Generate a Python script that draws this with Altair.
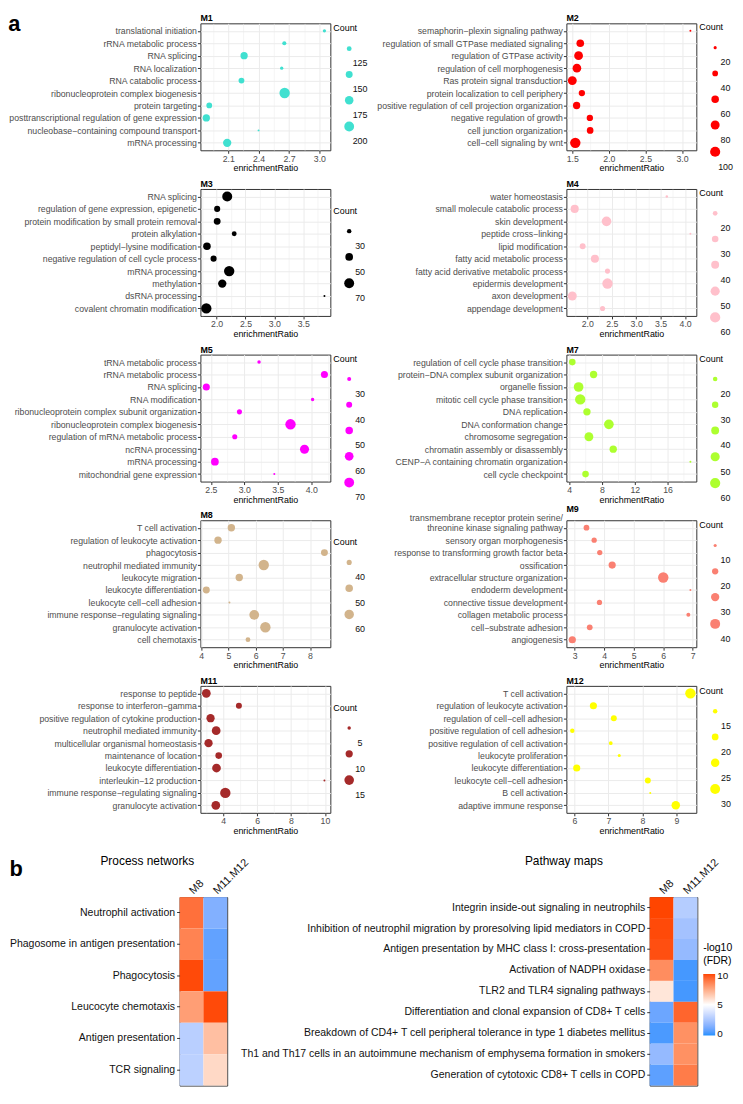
import json
import math
import altair as alt
import pandas as pd

FONT = "Liberation Sans"
INK = "#333333"
TICK_TEXT = "#4D4D4D"
GRID = "#EBEBEB"
BLACK = "#111111"

# ---------------- a: enrichment dot plots ----------------
m1_terms = ["translational initiation", "rRNA metabolic process", "RNA splicing", "RNA localization",
            "RNA catabolic process", "ribonucleoprotein complex biogenesis", "protein targeting",
            "posttranscriptional regulation of gene expression", "nucleobase\u2212containing compound transport",
            "mRNA processing"]
m1_ratio = [3.05, 2.654, 2.257, 2.628, 2.231, 2.657, 1.913, 1.884, 2.40, 2.09]
m1_count = [112, 118, 155, 112, 135, 212, 135, 155, 105, 172]
m1_xticks = [2.1, 2.4, 2.7, 3.0]
m1_breaks = [125, 150, 175, 200]

m2_terms = ["semaphorin\u2212plexin signaling pathway", "regulation of small GTPase mediated signaling",
            "regulation of GTPase activity", "regulation of cell morphogenesis", "Ras protein signal transduction",
            "protein localization to cell periphery", "positive regulation of cell projection organization",
            "negative regulation of growth", "cell junction organization", "cell\u2212cell signaling by wnt"]
m2_ratio = [3.115, 1.609, 1.586, 1.563, 1.50, 1.631, 1.559, 1.74, 1.744, 1.541]
m2_count = [15, 62, 78, 76, 80, 46, 58, 46, 50, 105]
m2_xticks = [1.5, 2.0, 2.5, 3.0]
m2_breaks = [20, 40, 60, 80, 100]

m3_terms = ["RNA splicing", "regulation of gene expression, epigenetic",
            "protein modification by small protein removal", "protein alkylation",
            "peptidyl\u2212lysine modification", "negative regulation of cell cycle process", "mRNA processing",
            "methylation", "dsRNA processing", "covalent chromatin modification"]
m3_ratio = [2.184, 2.01, 2.01, 2.305, 1.833, 1.948, 2.218, 2.098, 3.867, 1.822]
m3_count = [71, 39, 44, 32, 49, 39, 75, 55, 22, 74]
m3_xticks = [2.0, 2.5, 3.0, 3.5]
m3_breaks = [30, 50, 70]

m4_terms = ["water homeostasis", "small molecule catabolic process", "skin development",
            "peptide cross\u2212linking", "lipid modification", "fatty acid metabolic process",
            "fatty acid derivative metabolic process", "epidermis development", "axon development",
            "appendage development"]
m4_ratio = [3.626, 1.744, 2.394, 4.108, 1.907, 2.157, 2.414, 2.414, 1.695, 2.313]
m4_count = [12, 41, 54, 11, 26, 41, 22, 62, 48, 22]
m4_xticks = [2.0, 2.5, 3.0, 3.5, 4.0]
m4_breaks = [20, 30, 40, 50, 60]

m5_terms = ["tRNA metabolic process", "rRNA metabolic process", "RNA splicing", "RNA modification",
            "ribonucleoprotein complex subunit organization", "ribonucleoprotein complex biogenesis",
            "regulation of mRNA metabolic process", "ncRNA processing", "mRNA processing",
            "mitochondrial gene expression"]
m5_ratio = [3.22, 4.197, 2.432, 4.02, 2.927, 3.69, 2.857, 3.899, 2.56, 3.448]
m5_count = [28, 47, 47, 28, 35, 76, 35, 63, 52, 24]
m5_xticks = [2.5, 3.0, 3.5, 4.0]
m5_breaks = [30, 40, 50, 60, 70]

m7_terms = ["regulation of cell cycle phase transition", "protein\u2212DNA complex subunit organization",
            "organelle fission", "mitotic cell cycle phase transition", "DNA replication",
            "DNA conformation change", "chromosome segregation", "chromatin assembly or disassembly",
            "CENP\u2212A containing chromatin organization", "cell cycle checkpoint"]
m7_ratio = [4.37, 6.97, 5.14, 5.34, 6.16, 8.84, 6.40, 9.37, 18.8, 5.99]
m7_count = [31, 36, 55, 62, 36, 55, 48, 36, 12, 31]
m7_xticks = [4, 8, 12, 16]
m7_breaks = [20, 30, 40, 50, 60]

m8_terms = ["T cell activation", "regulation of leukocyte activation", "phagocytosis",
            "neutrophil mediated immunity", "leukocyte migration", "leukocyte differentiation",
            "leukocyte cell\u2212cell adhesion", "immune response\u2212regulating signaling",
            "granulocyte activation", "cell chemotaxis"]
m8_ratio = [5.11, 4.62, 8.53, 6.30, 5.40, 4.19, 5.04, 5.95, 6.36, 5.72]
m8_count = [49, 49, 47, 66, 49, 47, 33, 62, 66, 39]
m8_xticks = [4, 5, 6, 7, 8]
m8_breaks = [40, 50, 60]

m9_terms = ["transmembrane receptor protein serine/\nthreonine kinase signaling pathway",
            "sensory organ morphogenesis", "response to transforming growth factor beta", "ossification",
            "extracellular structure organization", "endoderm development", "connective tissue development",
            "collagen metabolic process", "cell\u2212substrate adhesion", "angiogenesis"]
m9_ratio = [3.40, 3.66, 3.85, 4.27, 6.00, 6.92, 3.84, 6.85, 3.51, 2.92]
m9_count = [18, 16, 16, 24, 43, 8, 16, 12, 18, 24]
m9_xticks = [3, 4, 5, 6, 7]
m9_breaks = [10, 20, 30, 40]

m11_terms = ["response to peptide", "response to interferon\u2212gamma",
             "positive regulation of cytokine production", "neutrophil mediated immunity",
             "multicellular organismal homeostasis", "maintenance of location", "leukocyte differentiation",
             "interleukin\u221212 production", "immune response\u2212regulating signaling",
             "granulocyte activation"]
m11_ratio = [3.01, 4.93, 3.26, 3.59, 3.14, 3.74, 3.61, 9.97, 4.13, 3.57]
m11_count = [13, 8, 12, 13, 12, 9, 13, 4, 17, 13]
m11_xticks = [4, 6, 8, 10]
m11_breaks = [5, 10, 15]

m12_terms = ["T cell activation", "regulation of leukocyte activation", "regulation of cell\u2212cell adhesion",
             "positive regulation of cell adhesion", "positive regulation of cell activation",
             "leukocyte proliferation", "leukocyte differentiation", "leukocyte cell\u2212cell adhesion",
             "B cell activation", "adaptive immune response"]
m12_ratio = [9.41, 6.56, 7.16, 5.94, 7.07, 7.32, 6.07, 8.16, 8.23, 8.98]
m12_count = [32, 21, 18, 15, 14, 13, 21, 18, 12, 25]
m12_xticks = [6, 7, 8, 9]
m12_breaks = [15, 20, 25, 30]

panels = [
    ("M1", "#40E0D0", m1_terms, m1_ratio, m1_count, m1_xticks, m1_breaks, ".1f"),
    ("M2", "#FF0000", m2_terms, m2_ratio, m2_count, m2_xticks, m2_breaks, ".1f"),
    ("M3", "#000000", m3_terms, m3_ratio, m3_count, m3_xticks, m3_breaks, ".1f"),
    ("M4", "#FFC0CB", m4_terms, m4_ratio, m4_count, m4_xticks, m4_breaks, ".1f"),
    ("M5", "#FF00FF", m5_terms, m5_ratio, m5_count, m5_xticks, m5_breaks, ".1f"),
    ("M7", "#ADFF2F", m7_terms, m7_ratio, m7_count, m7_xticks, m7_breaks, "d"),
    ("M8", "#D2B48C", m8_terms, m8_ratio, m8_count, m8_xticks, m8_breaks, "d"),
    ("M9", "#FA8072", m9_terms, m9_ratio, m9_count, m9_xticks, m9_breaks, "d"),
    ("M11", "#A52A2A", m11_terms, m11_ratio, m11_count, m11_xticks, m11_breaks, "d"),
    ("M12", "#FFFF00", m12_terms, m12_ratio, m12_count, m12_xticks, m12_breaks, "d"),
]

# ---------------- b: heatmaps ----------------
heat_cols = ["M8", "M11.M12"]
pn_terms = ["Neutrophil activation", "Phagosome in antigen presentation", "Phagocytosis",
            "Leucocyte chemotaxis", "Antigen presentation", "TCR signaling"]
pn_m8 = [9.3, 8.8, 10.2, 8.0, 2.8, 2.9]
pn_m1112 = [1.3, 0.6, 0.6, 10.2, 7.0, 6.2]

pm_terms = ["Integrin inside-out signaling in neutrophils",
            "Inhibition of neutrophil migration by proresolving lipid mediators in COPD",
            "Antigen presentation by MHC class I: cross-presentation",
            "Activation of NADPH oxidase",
            "TLR2 and TLR4 signaling pathways",
            "Differentiation and clonal expansion of CD8+ T cells",
            "Breakdown of CD4+ T cell peripheral tolerance in type 1 diabetes mellitus",
            "Th1 and Th17 cells in an autoimmune mechanism of emphysema formation in smokers",
            "Generation of cytotoxic CD8+ T cells in COPD"]
pm_m8 = [10.3, 10.2, 10.1, 8.5, 5.8, 0.8, 0.2, 1.8, 0.5]
pm_m1112 = [2.7, 2.2, 1.8, 0.1, 0.1, 9.6, 8.4, 8.4, 9.0]
fdr_ticks = [0, 5, 10]
fdr_mid = 5

# ---------------- layout constants ----------------
W, H = 131, 128
SIZE_RANGE = [4, 110]
HEAT_W, HEAT_H = 48, 190
LINE_H = 10


def dot_panel(name, color, terms, ratio, count, xticks, breaks, fmt):
    df = pd.DataFrame({"term": terms, "enrichmentRatio": ratio, "Count": count})
    lo, hi = min(ratio), max(ratio)
    pad = (hi - lo) * 0.05
    dlo, dhi = lo - pad, hi + pad
    step = xticks[1] - xticks[0]
    cand = [xticks[0] - step / 2] + [t + step / 2 for t in xticks]
    minors = [round(v, 6) for v in cand if dlo <= v <= dhi]
    values = sorted(set(list(xticks) + minors))
    test = "indexof(%s, datum.value) >= 0" % json.dumps(xticks)

    xaxis = alt.Axis(values=values, format=fmt, labelExpr=f"{test} ? datum.label : ''",
                     labelOverlap=False, labelFlush=False, labelFontSize=8.8, labelColor=TICK_TEXT,
                     labelPadding=1, tickSize=3, tickColor=INK,
                     tickOpacity={"condition": {"test": test, "value": 1}, "value": 0},
                     grid=True, gridColor=GRID,
                     gridWidth={"condition": {"test": test, "value": 1}, "value": 0.5},
                     domain=False, titleFontSize=9, titleFontWeight="normal", titleColor="black",
                     titlePadding=1)
    multi = "indexof(datum.value, '\\n') >= 0"
    yaxis = alt.Axis(labelExpr="split(datum.label, '\\n')", labelOverlap=False, labelLimit=400,
                     labelFontSize=8.8, labelColor=TICK_TEXT, labelPadding=1, labelLineHeight=LINE_H,
                     labelOffset={"condition": {"test": multi, "value": -LINE_H}, "value": 0},
                     tickSize=3, tickColor=INK, grid=True, gridColor=GRID, gridWidth=1, domain=False)

    cmin, cmax = min(count + breaks), max(count + breaks)
    dmax = math.sqrt(SIZE_RANGE[0] + (SIZE_RANGE[1] - SIZE_RANGE[0]) * (max(breaks) - cmin) / (cmax - cmin))
    col = math.ceil(dmax)
    ly = {3: 18, 4: 1, 5: 0}[len(breaks)]
    legend = alt.Legend(orient="none", legendX=W + 3, legendY=ly, direction="vertical", title="Count",
                        values=breaks, titleFontSize=9, titleFontWeight="normal", titleColor="black",
                        titlePadding=11, labelFontSize=9, labelColor=BLACK, labelAlign="center",
                        labelBaseline="top", labelExpr="['', datum.label]", labelOffset=16 - col,
                        symbolOffset=16 - col / 2, rowPadding=1, padding=0, symbolType="circle",
                        symbolFillColor=color, symbolStrokeWidth=0, symbolOpacity=1)

    return alt.Chart(df).mark_circle(color=color, opacity=1, strokeWidth=0).encode(
        x=alt.X("enrichmentRatio:Q", title="enrichmentRatio",
                scale=alt.Scale(domain=[dlo, dhi], nice=False, zero=False), axis=xaxis),
        y=alt.Y("term:N", sort=terms, title=None, scale=alt.Scale(padding=0.6), axis=yaxis),
        size=alt.Size("Count:Q", scale=alt.Scale(domain=[cmin, cmax], range=SIZE_RANGE, zero=False),
                      legend=legend),
    ).properties(width=W, height=H,
                 title=alt.TitleParams(text=name, anchor="start", frame="group", fontSize=9,
                                       fontWeight="bold", color="black", offset=0))


all_vals = pn_m8 + pn_m1112 + pm_m8 + pm_m1112
half = max(abs(v - fdr_mid) for v in all_vals)
color_scale = alt.Scale(domain=[fdr_mid - half, fdr_mid + half], domainMid=fdr_mid,
                        range=["#1E90FF", "#FFFFFF", "#FF4500"], interpolate="lab")


def heat_panel(title, terms, v8, v1112, title_x, letter=None, legend=False):
    rows = []
    for t, a, b in zip(terms, v8, v1112):
        rows.append({"term": t, "module": heat_cols[0], "value": a})
        rows.append({"term": t, "module": heat_cols[1], "value": b})
    df = pd.DataFrame(rows)
    leg = None
    if legend:
        leg = alt.Legend(orient="none", legendX=HEAT_W + 6, legendY=46, direction="vertical",
                         title=["-log10", "(FDR)"], titleFontSize=10.5, titleFontWeight="normal",
                         titleColor="black", titleLineHeight=13, titlePadding=8, gradientLength=62,
                         gradientThickness=12, gradientStrokeWidth=0, values=fdr_ticks,
                         labelFontSize=10, labelColor=BLACK, labelOffset=2, padding=0)
    ykw = dict(labelFontSize=10.6, labelColor=BLACK, labelLimit=500, labelPadding=2,
               tickSize=3, tickColor=INK, domain=False, grid=False, labelOverlap=False)
    if letter:
        ykw.update(titleX=-172, titleY=-22, titleAngle=0, titleAlign="left", titleBaseline="alphabetic",
                   titleFontSize=22, titleFontWeight="bold", titleColor="black")
    xaxis = alt.Axis(orient="top", labelAngle=-45, labelAlign="left", labelBaseline="middle",
                     ticks=False, domain=False, labelPadding=5, labelFontSize=11,
                     labelColor=BLACK, labelOverlap=False,
                     titleX=title_x, titleY=-37, titleAngle=0, titleAlign="center", titleBaseline="middle",
                     titleFontSize=12, titleFontWeight="normal", titleColor="black")
    return alt.Chart(df).mark_rect().encode(
        x=alt.X("module:N", sort=heat_cols, title=title,
                scale=alt.Scale(paddingInner=0, paddingOuter=0), axis=xaxis),
        y=alt.Y("term:N", sort=terms, title=(letter if letter else None),
                scale=alt.Scale(paddingInner=0, paddingOuter=0), axis=alt.Axis(**ykw)),
        color=alt.Color("value:Q", scale=color_scale, legend=leg),
    ).properties(width=HEAT_W, height=HEAT_H)


dot_charts = [dot_panel(*p) for p in panels]
grid = alt.concat(*dot_charts, columns=2, spacing={"row": 39, "column": 238}, bounds="flush",
                  title=alt.TitleParams(text="a", anchor="start", frame="bounds", offset=-22, fontSize=22,
                                        fontWeight="bold", color="black")
                  ).resolve_scale(x="independent", y="independent", size="independent")

# an empty, invisible spacer: shifts the dot grid right of the heatmap column origin
spacer = alt.Chart(pd.DataFrame({"v": [0]})).mark_point(opacity=0).encode(
    x=alt.X("v:Q", axis=None), y=alt.Y("v:Q", axis=None)
).properties(width=1, height=1, view=alt.ViewBackground(strokeOpacity=0, fillOpacity=0))
top_row = alt.hconcat(spacer, grid, spacing=20, bounds="flush")

heat_left = heat_panel("Process networks", pn_terms, pn_m8, pn_m1112, -33, letter="b")
heat_right = heat_panel("Pathway maps", pm_terms, pm_m8, pm_m1112, -87, legend=True)
heat_row = alt.hconcat(heat_left, heat_right, spacing=426, bounds="flush"
                       ).resolve_scale(color="independent", x="independent", y="independent")

chart = alt.vconcat(top_row, heat_row, spacing=17).properties(padding=0, background="white").configure(
    font=FONT).configure_view(stroke=INK, strokeWidth=1, fill="white").configure_axis(
    labelFont=FONT, titleFont=FONT).configure_legend(labelFont=FONT, titleFont=FONT).configure_title(
    font=FONT)

chart.save("out.html", embed_options={"renderer": "svg", "actions": False})
